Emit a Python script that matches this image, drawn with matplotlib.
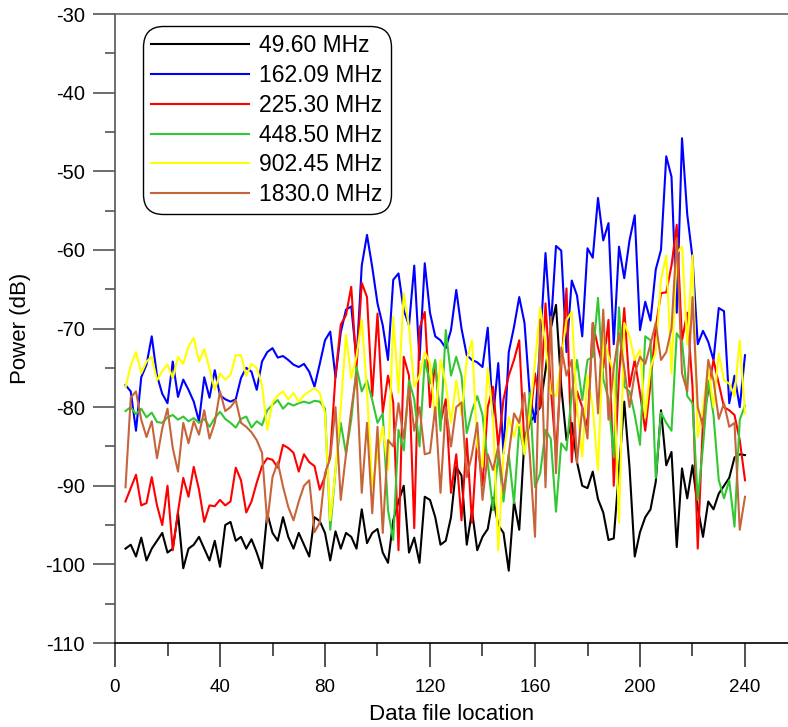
import numpy as np
import matplotlib
matplotlib.use("Agg")
import matplotlib.pyplot as plt
from matplotlib.ticker import MultipleLocator

plt.rcParams['font.family'] = ['Liberation Sans', 'DejaVu Sans']
plt.rcParams['axes.unicode_minus'] = False

x = list(range(4, 241, 2))

labels = ["49.60 MHz", "162.09 MHz", "225.30 MHz", "448.50 MHz", "902.45 MHz", "1830.0 MHz"]
colors = ["#000000", "#0000ff", "#ff0000", "#33c833", "#ffff00", "#c8643a"]

black = [
    -98, -97.5, -99, -96.6, -99.5, -98, -97, -96, -98.5, -98,
    -93.5, -100.5, -98, -97.5, -96.5, -98, -99.5, -97, -100.3, -95,
    -94.6, -97, -96.5, -98, -96.8, -98.5, -100.5, -93.5, -96, -97,
    -94, -96.5, -98, -96, -97.5, -99, -94, -94.5, -96, -99.5,
    -95.8, -98, -96, -96.5, -98, -93, -97.3, -96, -95.5, -98.5,
    -99.8, -94.4, -92, -90, -98.5, -96.6, -99.8, -91.4, -91.8, -94,
    -97.5, -97, -94, -87.6, -88.7, -97.5, -93.2, -98.2, -96.5, -95.5,
    -91.5, -95, -96, -100.8, -92, -95.6, -84, -82, -81, -80,
    -75.3, -70, -67, -77.4, -84.2, -82, -87, -90, -90.3, -88.2,
    -91.7, -93.4, -96.9, -96.7, -88, -79.3, -87.6, -99, -95.9, -94,
    -93, -89.5, -80.4, -87.4, -85.7, -97.8, -87.8, -91.6, -87.4, -92.8,
    -96.5, -92, -93, -91, -90, -89, -86.4, -86, -86.1,
]

blue = [
    -77.2, -78, -83, -76.2, -74.6, -71, -76, -78.3, -79.5, -74.2,
    -78.7, -76.5, -77.8, -79.3, -81.8, -76.2, -78.8, -75.3, -78.5, -79,
    -79.3, -79, -76.3, -75, -75.5, -77.8, -74.2, -73, -72.5, -73.7,
    -73.5, -74, -74.6, -74.9, -74.5, -75.5, -77.4, -74.5, -71.5, -70.4,
    -76.2, -70.5, -67.6, -67.2, -74, -62, -58.1, -62.2, -66.8, -69.6,
    -74, -63.8, -63, -67.7, -69.6, -62, -74, -61.7, -68, -71,
    -71.5, -72.5, -70.2, -65.1, -70, -73.4, -74, -74.3, -74.9, -69.9,
    -81.4, -74.4, -85.9, -73, -69.8, -66, -69.3, -78.4, -81.9, -71.7,
    -60.4, -70, -59.5, -60.1, -73, -63.9, -65.8, -71, -59.8, -61,
    -53.4, -58.8, -56.6, -72, -59.6, -63.6, -58.8, -55.6, -70.2, -66.6,
    -69, -62.5, -60, -48.1, -50.7, -68, -45.8, -55.5, -61, -72,
    -70.3, -71.7, -74, -67.4, -67.8, -79.5, -76, -80, -73.4,
]

red = [
    -92, -90.3, -88.6, -92.5, -92.2, -88.9, -92.5, -95, -90, -98.2,
    -93.3, -89, -91.4, -87.6, -90.5, -94.6, -92.5, -92.6, -91.8, -92.5,
    -92, -87.7, -89.3, -93.4, -92, -89.6, -87.5, -86.5, -86.7, -87.7,
    -84.8, -85.2, -85.8, -88.2, -86, -87, -87.5, -90.5, -88.8, -86,
    -76, -69.5, -68.3, -64.7, -75, -64.2, -66, -78.6, -68.1, -80.7,
    -76, -79.4, -98.2, -73.6, -76, -95.4, -70, -67.9, -80, -74.4,
    -82, -79, -90.9, -86, -94.4, -84, -94.7, -84, -90, -80,
    -77.4, -85, -79, -76, -74, -71.5, -85, -82, -75.7, -80,
    -66.8, -77.4, -86, -75, -64.9, -87, -78, -80, -82.5, -69.3,
    -72.4, -75, -68.9, -90, -76, -67.4, -77.4, -74, -78.2, -83,
    -77, -69.8, -65.5, -65.4, -62, -56.8, -71.5, -68, -77.4, -98,
    -81.6, -78, -74, -77, -80, -80.4, -81, -84.2, -89.3,
]

green = [
    -80.5, -80, -80.9, -80.2, -81.3, -80.7, -81.9, -82, -81.3, -81,
    -81.6, -81.2, -81.8, -81.4, -82, -81.5, -82.5, -81.4, -80.6, -81.5,
    -82, -82.6, -81.5, -81.2, -82.6, -81.8, -82.3, -80.4, -79.7, -79.1,
    -80.2, -79.5, -79.8, -79.5, -79.3, -79.5, -79.2, -79.3, -80.2, -95.6,
    -88, -82, -85.9, -81.6, -74.9, -78, -76.6, -79.1, -82, -80.8,
    -93.1, -96.9, -82.9, -85.5, -76.6, -79, -85, -74, -77, -74,
    -83, -70.2, -76, -73.6, -76, -83.3, -80.5, -78.6, -81, -87.1,
    -93.1, -86, -92, -86, -92.2, -82.5, -86, -78.2, -90.2, -88.4,
    -82.9, -84, -93.3, -84.6, -85.5, -78.2, -74, -79.1, -74, -73.6,
    -66.1, -76.4, -79, -86.4, -67.3, -77.4, -78, -81, -84.8, -71,
    -71.5, -89, -80.7, -82, -83, -70.6, -71.6, -78.6, -79.5, -91.8,
    -85, -76.6, -81, -89.3, -91.6, -89.3, -95.2, -81.6, -79.8,
]

yellow = [
    -77.5, -74.7, -73, -75.7, -74.2, -73.6, -76.6, -75.4, -74.6, -76.3,
    -73.6, -74.5, -72.3, -71.2, -74.2, -72.6, -75.1, -77.8, -75.7, -76.5,
    -75.9, -73.4, -73.4, -76, -74.5, -75, -77.2, -82.9, -79.4, -78.5,
    -78, -79, -78.2, -79.3, -78.5, -78, -77.6, -78.2, -80.8, -94.4,
    -88, -80, -70.8, -76.3, -73.6, -68.9, -78, -90.2, -86, -82.5,
    -88, -68.5, -78.2, -65.5, -69.8, -77.4, -76, -73, -74.4, -81.6,
    -74, -77, -82, -76.6, -81, -74, -71.5, -85, -87.6, -75,
    -81.3, -98.2, -86, -81.3, -83.8, -81.3, -86, -80.8, -74.4, -67.3,
    -72, -78.2, -78.6, -74, -68.9, -67.9, -80, -86.3, -76, -80,
    -88, -71, -73.5, -75.7, -94.7, -69.3, -71, -74, -72.7, -81.3,
    -75, -73, -63.8, -60.7, -75.7, -60.4, -59.6, -72, -60.7, -83.8,
    -80, -75, -80, -73.2, -76.6, -77, -78.6, -71.5, -80.8,
]

orange = [
    -90.2, -78.8, -78, -81.6, -83.8, -81.8, -86.5, -82.7, -80.2, -85.2,
    -88.2, -82, -84.6, -81.8, -83.5, -80.4, -84, -82, -78, -80.5,
    -80, -79.1, -82, -82.5, -83.2, -84.2, -85.8, -94.7, -88.9, -87,
    -90.1, -92.7, -94.4, -92, -90, -89.3, -95.9, -94.7, -88.4, -86.5,
    -80, -91.8, -86, -80.4, -75.7, -90.9, -82, -93.5, -82.5, -96,
    -84.2, -85, -79.5, -84, -77.4, -83, -80, -86, -85.8, -80,
    -90.9, -80, -85, -80, -79.4, -88.9, -86, -82, -91.8, -86,
    -88, -85, -90.9, -86, -80.8, -82, -78.2, -86, -96.5, -68.9,
    -90.2, -68.5, -88.4, -72.4, -76, -74, -87.1, -80, -84, -69.3,
    -80.8, -67.6, -81.6, -75, -70.6, -75, -80, -75.7, -73.6, -74.5,
    -72, -69.3, -74, -73, -70, -58.5, -75.7, -78, -66, -80,
    -82.5, -74, -76.6, -81.5, -79.5, -82.5, -82, -95.6, -91.4,
]

series = [black, blue, red, green, yellow, orange]

fig = plt.figure(figsize=(7.88, 7.27), dpi=100)
ax = fig.add_axes([115/788, 1 - 643/727, 1 - 115/788, (643 - 14)/727])

for vals, c, lab in zip(series, colors, labels):
    ax.plot(x, vals, color=c, lw=1.5, label=lab)

ax.set_xlim(0, (788 - 115) / 2.625)
ax.set_ylim(-110, -30)
ax.xaxis.set_major_locator(MultipleLocator(40))
ax.xaxis.set_minor_locator(MultipleLocator(20))
ax.yaxis.set_major_locator(MultipleLocator(10))
ax.yaxis.set_minor_locator(MultipleLocator(5))

ax.spines['right'].set_visible(False)
ax.spines['top'].set_color('#666666')
ax.spines['left'].set_color('#555555')
ax.spines['bottom'].set_color('#000000')
for s in ax.spines.values():
    s.set_linewidth(1.2)

ax.tick_params(axis='y', which='major', direction='out', length=15.8, width=1.2,
               color='#555555', labelsize=14.5, pad=6)
ax.tick_params(axis='y', which='minor', direction='out', length=7.5, width=1.2,
               color='#555555')
ax.tick_params(axis='x', which='major', direction='out', length=17, width=1.2,
               color='#333333', labelsize=13.5, pad=9)
ax.tick_params(axis='x', which='minor', direction='out', length=9, width=1.2,
               color='#333333')

ax.set_xlabel("Data file location", fontsize=16, labelpad=6)
ax.set_ylabel("Power (dB)", fontsize=16)
ax.yaxis.set_label_coords(-0.125, 0.5)

leg = ax.legend(loc='upper left', bbox_to_anchor=(0.041, 0.981), fontsize=16.5,
                handlelength=4.3, labelspacing=0.3, borderpad=0.35,
                handletextpad=0.45, fancybox=True, framealpha=1,
                edgecolor='#000000', borderaxespad=0)
leg.get_frame().set_linewidth(1.0)
leg.get_frame().set_boxstyle('round', pad=0.0, rounding_size=0.9)

fig.savefig("out.png", dpi=100)
